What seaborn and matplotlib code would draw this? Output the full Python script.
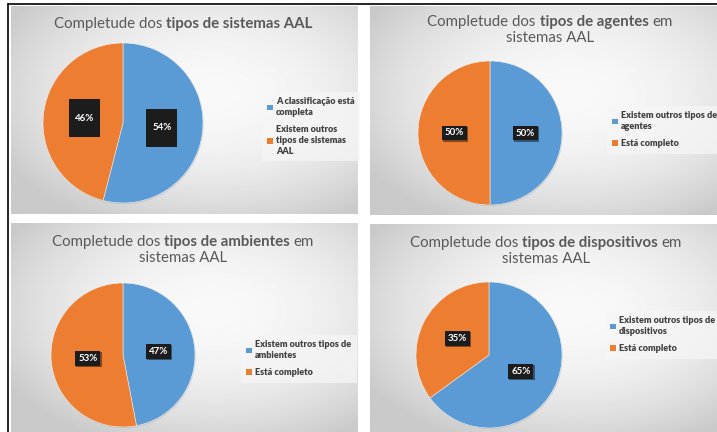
import numpy as np
import matplotlib
matplotlib.use("Agg")
import matplotlib.pyplot as plt
import matplotlib.patheffects as pe
from matplotlib.patches import Patch
import seaborn as sns

# ---------------- data ----------------
titles = [
    [[("Completude dos", False), ("tipos de sistemas AAL", True)]],
    [[("Completude dos", False), ("tipos de agentes", True), ("em", False)],
     [("sistemas AAL", False)]],
    [[("Completude dos", False), ("tipos de ambientes", True), ("em", False)],
     [("sistemas AAL", False)]],
    [[("Completude dos", False), ("tipos de dispositivos", True), ("em", False)],
     [("sistemas AAL", False)]],
]
labels = [
    ["A classificação está\ncompleta", "Existem outros\ntipos de sistemas\nAAL"],
    ["Existem outros tipos de\nagentes", "Está completo"],
    ["Existem outros tipos de\nambientes", "Está completo"],
    ["Existem outros tipos de\ndispositivos", "Está completo"],
]
values = [
    [54, 46],
    [50, 50],
    [47, 53],
    [65, 35],
]

# ---------------- style ----------------
sns.set_theme(style="white")
plt.rcParams["font.family"] = ["Lato", "DejaVu Sans"]
palette = sns.color_palette(["#5B9BD5", "#ED7D31"])
title_color = "#595959"

W, H = 717, 432
fig = plt.figure(figsize=(W / 100, H / 100), dpi=100)
fig.patch.set_facecolor("white")

def fx(x):
    return x / W

def fy(y):
    return 1 - y / H

# panel rectangles (pixel coords, top-origin): x0, y0, x1, y1
panels = [(11, 6, 358, 214), (370, 6, 717, 215), (11, 223, 358, 432), (370, 224, 717, 432)]
pies = [(123, 123, 80), (490, 133, 72), (123, 355, 72), (489, 355, 73)]
title_pos = [(183, [24]), (550, [22, 38]), (183, [242, 258]), (546, [243, 259])]
legend_pos = [(262, 92), (607, 106), (241, 335), (605, 311)]

# radial gradient background
ny, nx = 200, 340
yy, xx = np.mgrid[0:ny, 0:nx]
d = np.sqrt(((xx - nx * 0.58) / (nx * 0.62)) ** 2 + ((yy - ny * 0.42) / (ny * 0.62)) ** 2)
grad = np.clip(0.975 - 0.15 * d ** 2, 0.79, 1.0)

renderer = fig.canvas.get_renderer()

def draw_title(lines, cx, ys, size=10.8):
    for line, ypix in zip(lines, ys):
        pieces = []
        for txt, bold in line:
            t = fig.text(0, fy(ypix), txt, fontsize=size, color=title_color,
                         fontweight="bold" if bold else "normal", va="center", ha="left")
            pieces.append(t)
        widths = [t.get_window_extent(renderer).width for t in pieces]
        sp = size * 100 / 72 * 0.26
        total = sum(widths) + sp * (len(pieces) - 1)
        x = cx - total / 2
        for t, w in zip(pieces, widths):
            t.set_x(fx(x))
            x += w + sp

for i in range(4):
    x0, y0, x1, y1 = panels[i]
    bg = fig.add_axes([fx(x0), fy(y1), fx(x1 - x0), (y1 - y0) / H])
    bg.imshow(grad, cmap="gray", vmin=0, vmax=1, aspect="auto", interpolation="bilinear")
    bg.set_axis_off()

    cx, cy, r = pies[i]
    ax = fig.add_axes([fx(cx - r), fy(cy + r), 2 * r / W, 2 * r / H])
    wedges, _, autotexts = ax.pie(
        values[i], colors=palette, startangle=90, counterclock=False,
        autopct="%1.0f%%", pctdistance=0.49,
        wedgeprops=dict(edgecolor="#f0f0f0", linewidth=0.4),
        textprops=dict(color="white", fontsize=7, fontweight="bold"),
    )
    for w in wedges:
        w.set_path_effects([pe.SimplePatchShadow(offset=(0.5, -0.8), shadow_rgbFace="#9a9a9a", alpha=0.35), pe.Normal()])
    ax.set_xlim(-1, 1)
    ax.set_ylim(-1, 1)
    ax.set_axis_off()
    for t in autotexts:
        if i == 0:
            t.set_text("\n" + t.get_text() + "\n")
            t.set_linespacing(1.0)
            t.set_bbox(dict(boxstyle="square,pad=0.6", facecolor="#1c1c1c", edgecolor="none"))
        else:
            t.set_bbox(dict(boxstyle="square,pad=0.3", facecolor="#1c1c1c", edgecolor="none"))
            t.get_bbox_patch().set_path_effects(
                [pe.SimplePatchShadow(offset=(0.8, -0.8), shadow_rgbFace="black", alpha=0.45), pe.Normal()])

    handles = [Patch(facecolor=palette[k], edgecolor="none", label=labels[i][k]) for k in range(2)]
    lx, ly = legend_pos[i]
    leg = fig.legend(handles=handles, loc="upper left", bbox_to_anchor=(fx(lx), fy(ly)),
                     frameon=True, fancybox=False, handlelength=0.6, handleheight=0.6,
                     handletextpad=0.35, labelspacing=0.9, borderpad=0.6, borderaxespad=0,
                     prop=dict(size=6.5, weight="heavy"))
    leg.get_frame().set_facecolor("#f6f6f6")
    leg.get_frame().set_edgecolor("none")
    leg.get_frame().set_alpha(0.75)
    for t in leg.get_texts():
        t.set_color("#404040")
        t.set_linespacing(1.25)

    cxt, ys = title_pos[i]
    draw_title(titles[i], cxt, ys)

# outer black border lines (top and left)
fig.add_artist(plt.Line2D([fx(8), 1], [fy(4), fy(4)], color="black", lw=1.2))
fig.add_artist(plt.Line2D([fx(8), fx(8)], [fy(4), 0], color="black", lw=1.2))

fig.savefig("out.png", dpi=100)
